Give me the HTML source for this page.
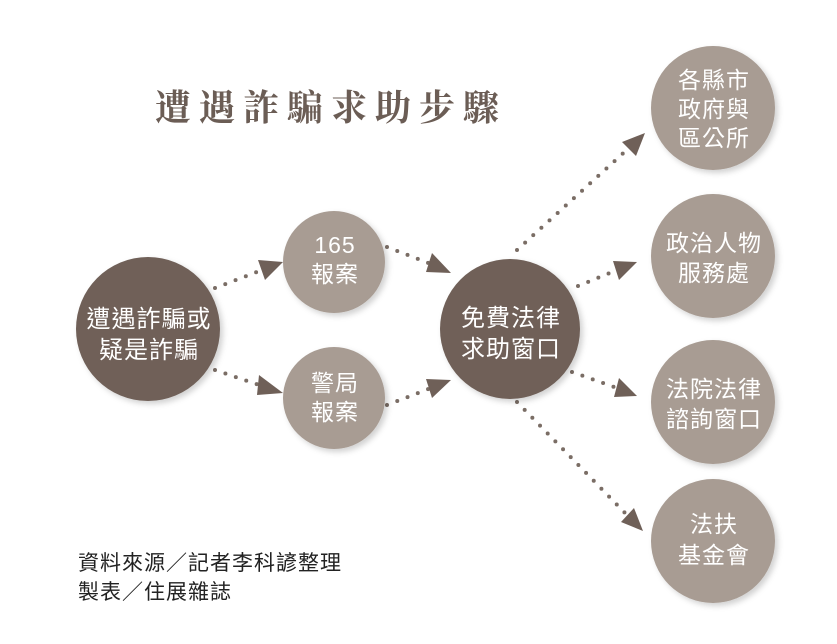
<!DOCTYPE html>
<html><head><meta charset="utf-8"><style>
body{margin:0;background:#fff;}
svg{display:block}
.t{font-family:"Liberation Sans","Noto Sans CJK TC",sans-serif;fill:#fff;text-anchor:middle}
</style></head><body>
<svg width="837" height="644" viewBox="0 0 837 644">
<defs><filter id="sh" x="-20%" y="-20%" width="150%" height="150%"><feDropShadow dx="3" dy="3" stdDeviation="3" flood-color="#000" flood-opacity="0.18"/></filter></defs>
<rect width="837" height="644" fill="#fff"/>
<text x="155" y="120" font-family="'Noto Serif CJK SC','Noto Serif CJK TC',serif" font-weight="bold" font-size="36" letter-spacing="8" fill="#6b5d55">遭遇詐騙求助步驟</text>
<g stroke="#7a6d65" stroke-width="4" stroke-linecap="round" stroke-dasharray="0 11" fill="none">
<line x1="215" y1="288" x2="262" y2="270"/>
<line x1="215" y1="370" x2="262" y2="386"/>
<line x1="387" y1="247" x2="431" y2="264"/>
<line x1="387" y1="405" x2="431" y2="388"/>
<line x1="517" y1="250" x2="630" y2="147"/>
<line x1="578" y1="286" x2="617" y2="270"/>
<line x1="572" y1="372" x2="617" y2="388"/>
<line x1="517" y1="402" x2="628" y2="516"/>
</g>
<g fill="#6f6058">
<polygon points="283,262 258,260 265,280"/>
<polygon points="283,393 259,375 257,395"/>
<polygon points="451,273 432,253 426,272"/>
<polygon points="451,380 426,379 432,398"/>
<polygon points="645,133 622,142 636,156"/>
<polygon points="637,262 613,261 619,280"/>
<polygon points="637,396 619,378 614,397"/>
<polygon points="643,531 621,522 634,508"/>
</g>
<g filter="url(#sh)">
<circle cx="148" cy="329" r="72" fill="#6f6058"/>
<circle cx="510" cy="329" r="70" fill="#6f6058"/>
<circle cx="334" cy="262" r="51" fill="#a89c93"/>
<circle cx="334" cy="398" r="51" fill="#a89c93"/>
<circle cx="713" cy="108" r="62" fill="#a89c93"/>
<circle cx="713" cy="256" r="62" fill="#a89c93"/>
<circle cx="713" cy="402" r="62" fill="#a89c93"/>
<circle cx="713" cy="541" r="62" fill="#a89c93"/>
</g>
<g class="t" font-size="24" letter-spacing="1">
<text x="149" y="327">遭遇詐騙或</text><text x="149" y="358">疑是詐騙</text>
<text x="511" y="326">免費法律</text><text x="511" y="357">求助窗口</text>
</g>
<g class="t" font-size="23" letter-spacing="1">
<text x="335" y="253">165</text><text x="335" y="282">報案</text>
<text x="335" y="391">警局</text><text x="335" y="420">報案</text>
<text x="714" y="88">各縣市</text><text x="714" y="117">政府與</text><text x="714" y="146">區公所</text>
<text x="714" y="251">政治人物</text><text x="714" y="281">服務處</text>
<text x="714" y="397">法院法律</text><text x="714" y="427">諮詢窗口</text>
<text x="714" y="532">法扶</text><text x="714" y="563">基金會</text>
</g>
<g font-family="'Liberation Sans','Noto Sans CJK TC',sans-serif" font-size="21" letter-spacing="1" fill="#222">
<text x="78" y="570">資料來源／記者李科諺整理</text>
<text x="78" y="599">製表／住展雜誌</text>
</g>
</svg>
</body></html>
